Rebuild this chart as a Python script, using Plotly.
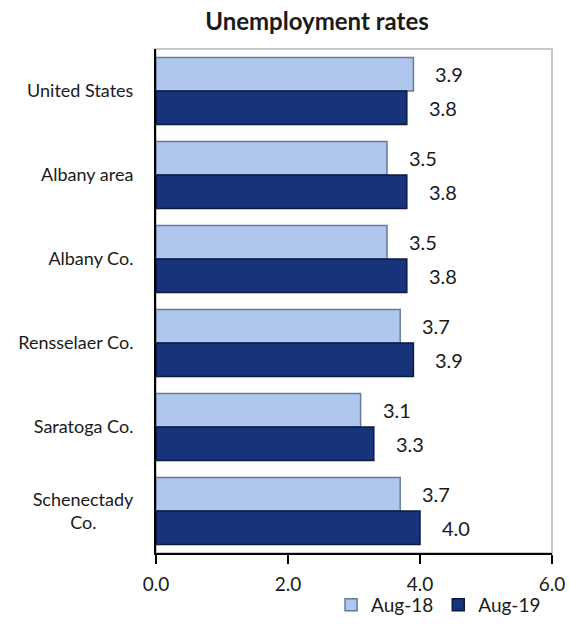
import plotly.graph_objects as go

categories = ["United States", "Albany area", "Albany Co.", "Rensselaer Co.",
              "Saratoga Co.", "Schenectady Co."]
tick_labels = ["United States", "Albany area", "Albany Co.", "Rensselaer Co.",
               "Saratoga Co.", "Schenectady<br>Co." + "\u00a0" * 8]
aug18 = [3.9, 3.5, 3.5, 3.7, 3.1, 3.7]
aug19 = [3.8, 3.8, 3.8, 3.9, 3.3, 4.0]
x_ticks = [0, 2, 4, 6]

FONT = "Lato"
TXT = "#1a1a1a"

fig = go.Figure()
fig.add_trace(go.Bar(
    name="Aug-18", y=categories, x=aug18, orientation="h",
    marker=dict(color="#afc7ec", line=dict(color="#667a99", width=1.5)),
    hoverinfo="x+y",
))
fig.add_trace(go.Bar(
    name="Aug-19", y=categories, x=aug19, orientation="h",
    marker=dict(color="#17347a", line=dict(color="#0a1a45", width=1.5)),
    hoverinfo="x+y",
))

annotations = []
for c, v in zip(categories, aug18):
    annotations.append(dict(x=v, y=c, text=f"{v:.1f}", showarrow=False,
                            xanchor="left", yanchor="middle", xshift=20, yshift=17,
                            font=dict(family=FONT, size=20, color=TXT)))
for c, v in zip(categories, aug19):
    annotations.append(dict(x=v, y=c, text=f"{v:.1f}", showarrow=False,
                            xanchor="left", yanchor="middle", xshift=20, yshift=-17,
                            font=dict(family=FONT, size=20, color=TXT)))

fig.update_layout(
    width=569, height=632,
    margin=dict(l=156, r=17, t=49, b=79, pad=0, autoexpand=False),
    paper_bgcolor="white", plot_bgcolor="white",
    barmode="group", bargap=0.2, bargroupgap=0,
    font=dict(family=FONT, size=18, color=TXT),
    title=dict(text="<b>Unemployment rates</b>", x=317 / 569, xanchor="center",
               y=1 - 22 / 632, yanchor="middle",
               font=dict(family=FONT, size=24, color=TXT)),
    showlegend=True,
    legend=dict(orientation="h", x=0.985, xanchor="right", y=-0.103, yanchor="middle",
                font=dict(family=FONT, size=19, color=TXT), traceorder="normal",
                itemwidth=30, bgcolor="rgba(0,0,0,0)"),
    annotations=annotations,
    shapes=[dict(type="rect", xref="paper", yref="paper", x0=0, x1=1, y0=0, y1=1,
                 line=dict(color="#c8c8c8", width=2), layer="below")],
)
fig.update_xaxes(range=[0, 6], tickvals=x_ticks, ticktext=[f"{t:.1f}" for t in x_ticks],
                 showgrid=False, zeroline=False, showline=True, linecolor="black",
                 linewidth=2, ticks="outside", ticklen=9, tickwidth=2, tickcolor="black",
                 ticklabelstandoff=4, automargin=False,
                 tickfont=dict(family=FONT, size=19, color=TXT))
fig.update_yaxes(categoryorder="array", categoryarray=categories, autorange="reversed",
                 tickvals=categories, ticktext=tick_labels,
                 showgrid=False, zeroline=False, showline=True, linecolor="black",
                 linewidth=2, ticks="", ticklabelstandoff=17, automargin=False,
                 tickfont=dict(family=FONT, size=18, color=TXT))

fig.write_html("out.html", config={"displayModeBar": False},
               post_script="document.body.style.margin='0';document.body.style.overflow='hidden';")
